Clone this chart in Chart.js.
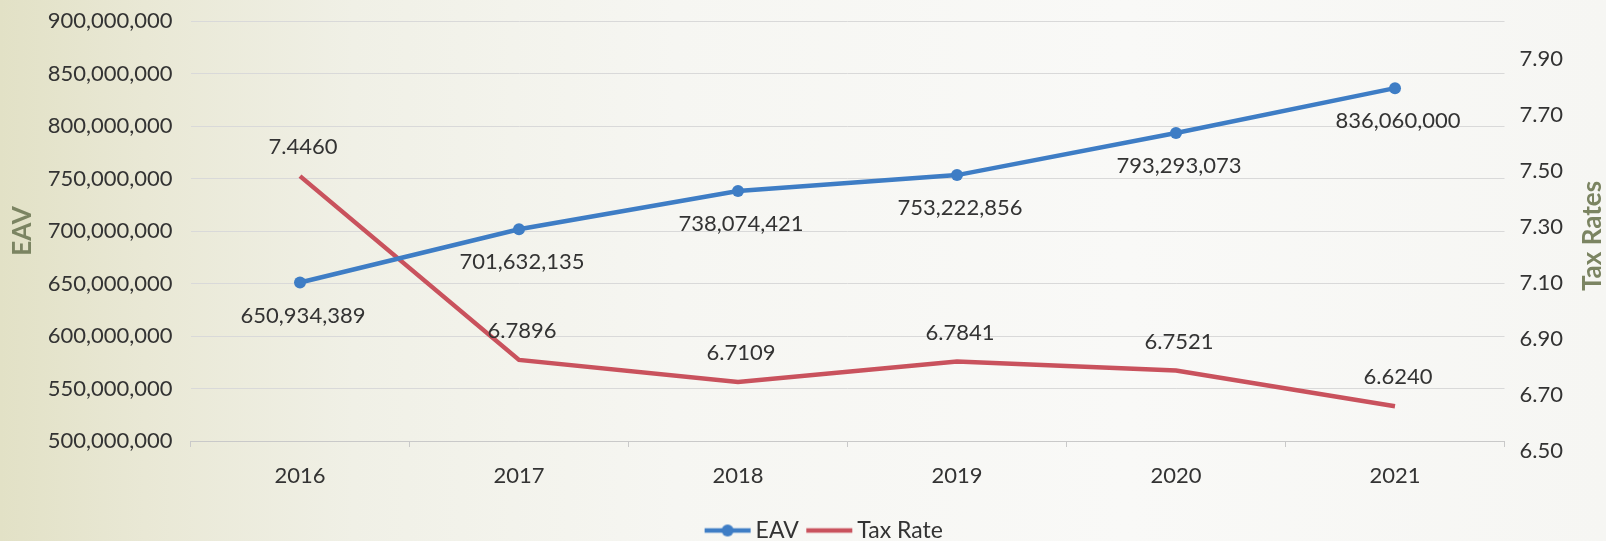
<!DOCTYPE html>
<html>
<head>
<meta charset="utf-8">
<title>EAV and Tax Rate</title>
<script src="https://cdn.jsdelivr.net/npm/chart.js@4.4.1/dist/chart.umd.min.js"></script>
<style>
  html, body { margin: 0; padding: 0; }
  body {
    width: 1606px; height: 541px; overflow: hidden;
    background: linear-gradient(90deg, #e2e1c6 0%, #e9e8d5 9%, #f0f0e6 22%, #f6f6f2 42%, #f9f9f7 70%, #f6f6f3 100%);
  }
  #wrap { position: relative; width: 1606px; height: 541px; }
</style>
</head>
<body>
<div id="wrap"><canvas id="c"></canvas></div>
<script>
/* EAV (left axis) vs Tax Rate (right axis), 2016-2021 */
const years = ["2016", "2017", "2018", "2019", "2020", "2021"];
const eav = [650934389, 701632135, 738074421, 753222856, 793293073, 836060000];
const taxRate = [7.4460, 6.7896, 6.7109, 6.7841, 6.7521, 6.6240];
const taxTicks = [6.5, 6.7, 6.9, 7.1, 7.3, 7.5, 7.7, 7.9];

const BLUE = "#3e7dc5", RED = "#c9525d";
const INK = "#333333", OLIVE = "#7b8462";
const FONT = "Lato, 'Open Sans', sans-serif";

Chart.defaults.font.family = FONT;
Chart.defaults.color = INK;

// legend marks: line with dot for EAV, plain line for Tax Rate
function legendMark(color, dot) {
  const c = document.createElement("canvas");
  c.width = 80; c.height = 14;
  const g = c.getContext("2d");
  g.strokeStyle = color; g.lineWidth = 4.5;
  g.beginPath(); g.moveTo(24, 7); g.lineTo(70, 7); g.stroke();
  if (dot) { g.fillStyle = color; g.beginPath(); g.arc(47, 7, 6, 0, Math.PI * 2); g.fill(); }
  return c;
}
const marks = [legendMark(BLUE, true), legendMark(RED, false)];

// value labels: EAV below the point, tax rate above
const valueLabels = {
  id: "valueLabels",
  afterDatasetsDraw(chart) {
    const ctx = chart.ctx;
    ctx.save();
    ctx.font = "22px " + FONT;
    ctx.fillStyle = INK;
    ctx.textAlign = "center";
    ctx.textBaseline = "middle";
    chart.getDatasetMeta(0).data.forEach((p, i) => ctx.fillText(eav[i].toLocaleString("en-US"), p.x + 3, p.y + 33));
    chart.getDatasetMeta(1).data.forEach((p, i) => ctx.fillText(taxRate[i].toFixed(4), p.x + 3, p.y - 29));
    ctx.restore();
  },
};

// both axis titles read bottom-to-top
const axisTitles = {
  id: "axisTitles",
  afterDraw(chart) {
    const ctx = chart.ctx, a = chart.chartArea;
    const mid = (a.top + a.bottom) / 2;
    ctx.save();
    ctx.font = "bold 26px " + FONT;
    ctx.fillStyle = OLIVE;
    ctx.textAlign = "center";
    ctx.textBaseline = "middle";
    [["EAV", 23, mid], ["Tax Rates", 1593, mid + 5]].forEach(([t, x, y]) => {
      ctx.save(); ctx.translate(x, y); ctx.rotate(-Math.PI / 2); ctx.fillText(t, 0, 0); ctx.restore();
    });
    ctx.restore();
  },
};

new Chart(document.getElementById("c"), {
  type: "line",
  data: {
    labels: years,
    datasets: [
      { label: "EAV", data: eav, yAxisID: "y", borderColor: BLUE, backgroundColor: BLUE,
        borderWidth: 4.5, pointRadius: 6, pointBorderWidth: 0, pointBackgroundColor: BLUE, tension: 0 },
      { label: "Tax Rate", data: taxRate, yAxisID: "y1", borderColor: RED, backgroundColor: RED,
        borderWidth: 4.5, pointRadius: 0, tension: 0 },
    ],
  },
  options: {
    responsive: true, maintainAspectRatio: false, animation: false,
    // left pad keeps the legend centred where the reference has it
    layout: { padding: { top: 21, bottom: -11, left: 34, right: 0 } },
    plugins: {
      tooltip: { enabled: false },
      legend: {
        position: "bottom",
        labels: {
          usePointStyle: true, pointStyleWidth: 47, padding: 0,
          font: { size: 23 }, color: INK,
          generateLabels(chart) {
            const items = Chart.defaults.plugins.legend.labels.generateLabels(chart);
            items.forEach(it => { it.pointStyle = marks[it.datasetIndex]; });
            return items;
          },
        },
      },
    },
    scales: {
      x: {
        offset: true,
        grid: { offset: true, drawOnChartArea: false, tickLength: 6, color: "#c9c9c9" },
        border: { color: "#c9c9c9" },
        ticks: { font: { size: 22 }, padding: 16, color: INK },
        afterFit(s) { s.height = 78; },
      },
      y: {
        position: "left", min: 500000000, max: 900000000,
        grid: { color: "#d9d9d9", tickLength: 12, tickColor: "rgba(0,0,0,0)" },
        border: { display: false },
        ticks: { stepSize: 50000000, padding: 6, font: { size: 22 }, color: INK,
                 callback: v => v.toLocaleString("en-US") },
        afterFit(s) { s.width = 156.5; },
      },
      y1: {
        position: "right", min: 6.5, max: 8.0,
        grid: { display: false, tickLength: 9 },
        border: { display: false },
        afterBuildTicks(s) { s.ticks = taxTicks.map(v => ({ value: v })); },
        ticks: { padding: 6, labelOffset: 10, font: { size: 22 }, color: INK, callback: v => v.toFixed(2) },
        afterFit(s) { s.width = 101.5; },
      },
    },
  },
  plugins: [valueLabels, axisTitles],
});
</script>
</body>
</html>
